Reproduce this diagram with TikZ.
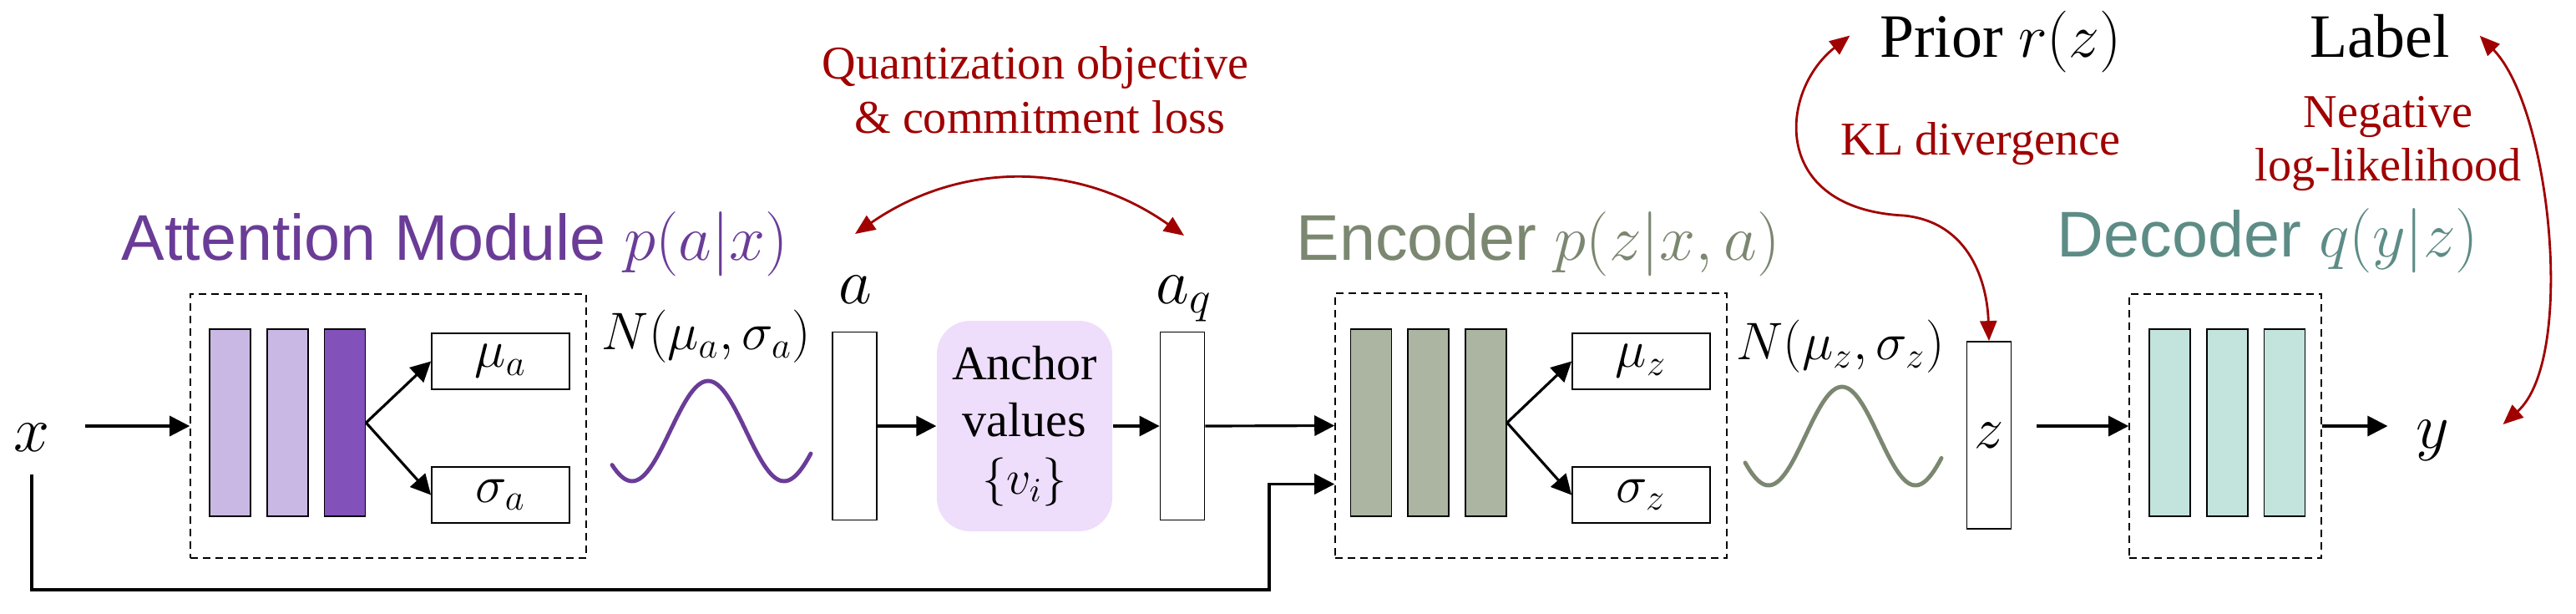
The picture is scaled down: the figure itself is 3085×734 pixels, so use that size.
\RequirePackage{fix-cm}
\documentclass[tikz,border=0pt]{standalone}
\usepackage{amsmath}
\usepackage{fontspec}
\setmainfont{Liberation Serif}
\newfontfamily\headfont{Liberation Sans}
\usetikzlibrary{arrows.meta,positioning}
\definecolor{attcol}{HTML}{6A3C97}
\definecolor{attlight}{HTML}{C9B8E4}
\definecolor{attdark}{HTML}{8351BA}
\definecolor{enccol}{HTML}{7B8770}
\definecolor{encbar}{HTML}{ABB5A1}
\definecolor{deccol}{HTML}{5D8C86}
\definecolor{decbar}{HTML}{C3E3DD}
\definecolor{anchorfill}{HTML}{EEDDFB}
\definecolor{lossred}{HTML}{A00000}
\tikzset{node distance=1.8mm}
\tikzset{
  layer/.style={draw, line width=0.5pt, minimum width=4.9mm, minimum height=22.4mm, inner sep=0pt},
  param/.style={draw, line width=0.5pt, minimum width=16.5mm, minimum height=6.7mm, inner sep=0pt, font=\fontsize{18}{20}\selectfont},
  vecbox/.style={draw, line width=0.5pt, minimum width=5.3mm, minimum height=22.5mm, inner sep=0pt},
  module/.style={draw, dashed, dash pattern=on 0.9mm off 0.6mm, line width=0.45pt, inner sep=0pt},
  anchorbox/.style={fill=anchorfill, rounded corners=4mm, minimum width=21mm, minimum height=25.2mm, inner sep=0pt, align=center, font=\fontsize{16.5}{19.6}\selectfont},
  conn/.style={>={Triangle[length=2.4mm,width=2.4mm]}, ->, line width=0.9pt},
  lossarrow/.style={>={Triangle[length=2.4mm,width=2mm]}, <->, line width=0.8pt, lossred},
  title/.style={font=\headfont\fontsize{22}{26}\selectfont, inner sep=0pt},
  losstext/.style={text=lossred, font=\fontsize{16}{19}\selectfont, inner sep=0pt},
  bigtext/.style={font=\fontsize{21}{25}\selectfont, inner sep=2pt},
  var/.style={font=\fontsize{22}{26}\selectfont, inner sep=2pt},
  gauss/.style={line width=1.4pt, line cap=round},
}

\begin{document}
\begin{tikzpicture}[x=0.1mm, y=-0.1mm]
\useasboundingbox (0,0) rectangle (3085,734);

% attention module
\node[module, minimum width=47.4mm, minimum height=31.6mm] (attbox) at (465,510) {};
\node[layer, fill=attlight] (att1) at (275.5,506) {};
\node[layer, fill=attlight, right=of att1] (att2) {};
\node[layer, fill=attdark, right=of att2] (att3) {};
\node[param] (mua) at (599.5,432.5) {$\mu_a$};
\node[param] (siga) at (599.5,592.5) {$\sigma_a$};
\draw[conn] (att3.east) -- (mua.west);
\draw[conn] (att3.east) -- (siga.west);
\node[title, text=attcol, anchor=base] (atttitle) at (545,311) {Attention Module $p(a|x)$};

% input
\node[var] (xin) at (38,523.5) {$x$};
\draw[conn, shorten <=3.5mm] (xin.east |- attbox.west) -- (attbox.west);

\node[var, font=\fontsize{18}{20}\selectfont] (na) at (846,403) {$N(\mu_a,\sigma_a)$};
\draw[gauss, attcol, domain=733:971, samples=80] plot (\x, {516-60*cos(1.978*(\x-848))});

% quantization
\node[vecbox] (abox) at (1023.5,510) {};
\node[var, anchor=base] (alab) at (1024,363) {$a$};
\node[anchorbox] (anchor) at (1227,510) {Anchor\\values\\$\{v_i\}$};
\node[vecbox] (aqbox) at (1416,510) {};
\node[var, anchor=base] (aqlab) at (1418,363) {$a_q$};
\draw[conn] (abox.east) -- (anchor.west);
\draw[conn] (anchor.east) -- (aqbox.west);
\draw[lossarrow] ([yshift=4.2mm]alab.north) to[bend left=35] ([yshift=4mm]aqlab.north);
\node[losstext, anchor=base] (qtext1) at (1240,94) {Quantization objective};
\node[losstext, anchor=base] (qtext2) at (1245,159) {\& commitment loss};

% encoder
\node[module, minimum width=46.9mm, minimum height=31.7mm] (encbox) at (1833.5,509.5) {};
\node[layer, fill=encbar] (enc1) at (1642,506) {};
\node[layer, fill=encbar, right=of enc1] (enc2) {};
\node[layer, fill=encbar, right=of enc2] (enc3) {};
\node[param] (muz) at (1965.5,432.5) {$\mu_z$};
\node[param] (sigz) at (1965.5,592.5) {$\sigma_z$};
\draw[conn] (enc3.east) -- (muz.west);
\draw[conn] (enc3.east) -- (sigz.west);
\node[title, text=enccol, anchor=base] (enctitle) at (1842,311) {Encoder $p(z|x,a)$};
\draw[conn] (aqbox.east) -- (encbox.west);
\draw[conn, shorten <=2mm] (xin.south) |- (1520,706) |- ([yshift=-7mm]encbox.west);

\node[var, font=\fontsize{18}{20}\selectfont] (nz) at (2204,415) {$N(\mu_z,\sigma_z)$};
\draw[gauss, enccol, domain=2090:2325, samples=80] plot (\x, {522-59*cos(2.0455*(\x-2206))});

% latent and decoder
\node[vecbox, minimum height=22.4mm, font=\fontsize{20}{22}\selectfont] (zbox) at (2382,521) {$z$};
\node[module, minimum width=23mm, minimum height=31.6mm] (decbox) at (2665,510) {};
\node[layer, fill=decbar] (dec1) at (2598.5,506) {};
\node[layer, fill=decbar, right=of dec1] (dec2) {};
\node[layer, fill=decbar, right=of dec2] (dec3) {};
\node[title, text=deccol, anchor=base] (dectitle) at (2716,307) {Decoder $q(y|z)$};
\draw[conn, shorten <=3mm] (zbox.east |- decbox.west) -- (decbox.west);
\node[var] (yout) at (2913,527) {$y$};
\draw[conn, shorten >=2.6mm] (decbox.east) -- (yout.west |- decbox.east);

% losses
\node[bigtext, anchor=base] (prior) at (2396,68) {Prior $r(z)$};
\node[bigtext, anchor=base] (lbl) at (2850,68) {Label};
\node[losstext, anchor=base] (kl) at (2372,185) {KL divergence};
\node[losstext, anchor=base] (nll1) at (2860,152) {Negative};
\node[losstext, anchor=base] (nll2) at (2860,216) {log-likelihood};
\draw[lossarrow] ([xshift=-2.8mm,yshift=0.7mm]prior.west) .. controls (2130,110) and (2120,250) .. (2280,258)
  .. controls (2360,266) and (2380,340) .. (zbox.north);
\draw[lossarrow] ([xshift=2.8mm]lbl.east) .. controls (3055,130) and (3085,430) .. ([xshift=5.7mm,yshift=1.9mm]yout.east);
\end{tikzpicture}
\end{document}
